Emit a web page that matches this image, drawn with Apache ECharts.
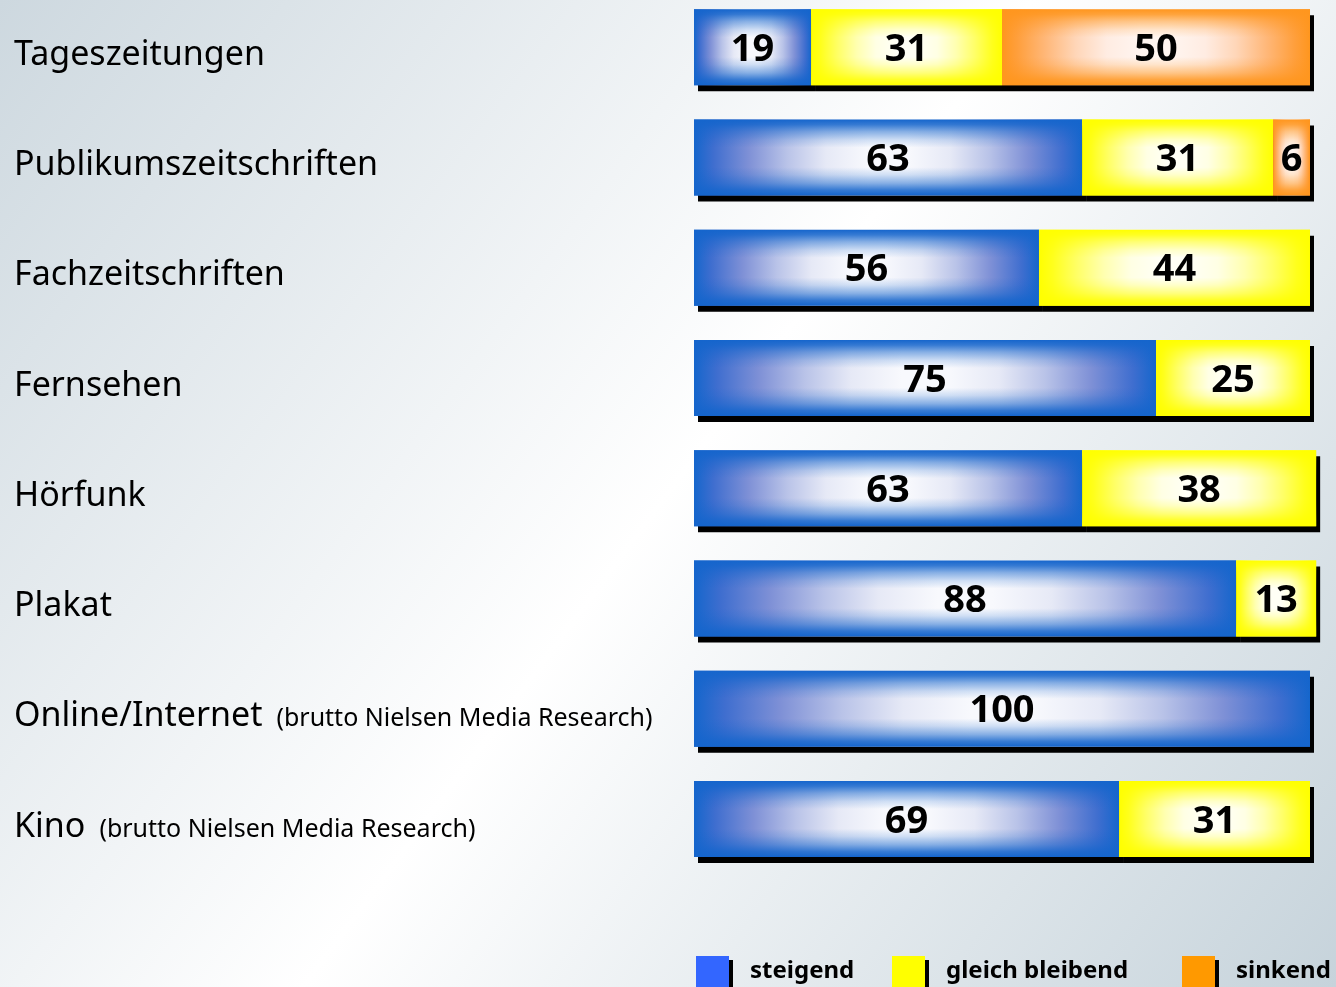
<!DOCTYPE html>
<html>
<head>
<meta charset="utf-8">
<script src="https://cdn.jsdelivr.net/npm/echarts@6/dist/echarts.min.js"></script>
<style>
  html, body { margin: 0; padding: 0; }
  #main { width: 1336px; height: 987px; }
</style>
</head>
<body>
<div id="main"></div>
<script>
// Daten
const categories = [
  "Tageszeitungen",
  "Publikumszeitschriften",
  "Fachzeitschriften",
  "Fernsehen",
  "Hörfunk",
  "Plakat",
  "Online/Internet",
  "Kino"
];
// Zusatz hinter dem Namen
const notes = ["", "", "", "", "", "", "(brutto Nielsen Media Research)", "(brutto Nielsen Media Research)"];

const steigend = [19, 63, 56, 75, 63, 88, 100, 69];
const gleichBleibend = [31, 31, 44, 25, 38, 13, 0, 31];
const sinkend = [50, 6, 0, 0, 0, 0, 0, 0];

const seriesNames = ["steigend", "gleich bleibend", "sinkend"];

// Farben: Rand (rgb), Verlaufsstufen zur Mitte hin, Legende
const colors = [
  { edge: [21, 101, 204], steps: ["#1566cc", "#3f6ecf", "#7e90d6", "#b9c3e8", "#e6e9f6", "#f8f9fd"], legend: "#3366ff" },
  { edge: [255, 255, 0], steps: ["#ffff00", "#ffff1c", "#ffff66", "#ffffb0", "#ffffe4", "#fffff6"], legend: "#ffff00" },
  { edge: [255, 150, 30], steps: ["#ff961e", "#ff9f3c", "#ffb778", "#ffd6b8", "#ffece2", "#fff5f0"], legend: "#ff9900" }
];
const stepPos = [0, 0.05, 0.14, 0.24, 0.34, 0.45];

function rgba(c, a) {
  return "rgba(" + c[0] + "," + c[1] + "," + c[2] + "," + a + ")";
}

// waagrechter Verlauf: Rand dunkel, Mitte hell (deckend)
function hGrad(c) {
  const stops = [];
  stepPos.forEach((p, k) => stops.push({ offset: p, color: c.steps[k] }));
  for (let k = stepPos.length - 1; k >= 0; k--) {
    stops.push({ offset: 1 - stepPos[k], color: c.steps[k] });
  }
  return { type: "linear", x: 0, y: 0, x2: 1, y2: 0, colorStops: stops };
}

// senkrechter Verlauf als Überlagerung
function vGrad(c) {
  return {
    type: "linear", x: 0, y: 0, x2: 0, y2: 1,
    colorStops: [
      { offset: 0, color: rgba(c.edge, 1) },
      { offset: 0.07, color: rgba(c.edge, 0.85) },
      { offset: 0.16, color: rgba(c.edge, 0.5) },
      { offset: 0.27, color: rgba(c.edge, 0.18) },
      { offset: 0.37, color: rgba(c.edge, 0) },
      { offset: 0.63, color: rgba(c.edge, 0) },
      { offset: 0.73, color: rgba(c.edge, 0.18) },
      { offset: 0.84, color: rgba(c.edge, 0.5) },
      { offset: 0.93, color: rgba(c.edge, 0.85) },
      { offset: 1, color: rgba(c.edge, 1) }
    ]
  };
}

const chart = echarts.init(document.getElementById("main"));

const values = [steigend, gleichBleibend, sinkend];

const baseSeries = values.map((data, i) => ({
  name: seriesNames[i],
  type: "bar",
  stack: "base",
  data: data,
  barWidth: 76,
  barGap: "-100%",
  clip: false,
  silent: true,
  itemStyle: {
    color: hGrad(colors[i]),
    shadowColor: "#000",
    shadowBlur: 0,
    shadowOffsetX: 4,
    shadowOffsetY: 6
  },
  z: 2
}));

const overlaySeries = values.map((data, i) => ({
  name: seriesNames[i] + "_v",
  type: "bar",
  stack: "over",
  data: data,
  barWidth: 76,
  barGap: "-100%",
  clip: false,
  silent: true,
  itemStyle: { color: vGrad(colors[i]) },
  label: {
    show: true,
    position: "inside",
    offset: [0, 3],
    formatter: (p) => (p.value ? String(p.value) : ""),
    fontFamily: "Noto Sans",
    fontWeight: "bold",
    fontSize: 38,
    color: "#000"
  },
  z: 3
}));

const legends = seriesNames.map((name, i) => ({
  data: [{ name: name, itemStyle: { color: colors[i].legend, shadowColor: "#000", shadowBlur: 0, shadowOffsetX: 4, shadowOffsetY: 4 } }],
  left: [696, 892, 1182][i],
  top: 956,
  padding: 0,
  icon: "rect",
  itemWidth: 33,
  itemHeight: 31,
  selectedMode: false,
  textStyle: {
    fontFamily: "Noto Sans",
    fontWeight: "bold",
    fontSize: 24,
    color: "#000",
    padding: [4, 0, 0, 16]
  }
}));

const option = {
  animation: false,
  backgroundColor: {
    type: "linear", x: 0, y: 0, x2: 1, y2: 1,
    colorStops: [
      { offset: 0, color: "#cdd8df" },
      { offset: 0.5, color: "#ffffff" },
      { offset: 1, color: "#c6d3db" }
    ]
  },
  legend: legends,
  grid: { left: 694, right: 26, top: -8, height: 882, outerBoundsMode: "none", containLabel: false },
  xAxis: { type: "value", min: 0, max: 100, show: false },
  yAxis: {
    type: "category",
    data: categories,
    inverse: true,
    axisLine: { show: false },
    axisTick: { show: false },
    splitLine: { show: false },
    axisLabel: {
      align: "left",
      margin: 680,
      padding: [6, 0, 0, 0],
      formatter: (v, idx) => notes[idx] ? "{a|" + v + "}{b|" + notes[idx] + "}" : "{a|" + v + "}",
      rich: {
        a: { fontFamily: "Noto Sans", fontSize: 34, color: "#000", lineHeight: 44, verticalAlign: "bottom" },
        b: { fontFamily: "Noto Sans", fontSize: 25, color: "#000", lineHeight: 44, verticalAlign: "bottom", padding: [0, 0, 2, 14] }
      }
    }
  },
  series: baseSeries.concat(overlaySeries)
};

chart.setOption(option);
</script>
</body>
</html>
